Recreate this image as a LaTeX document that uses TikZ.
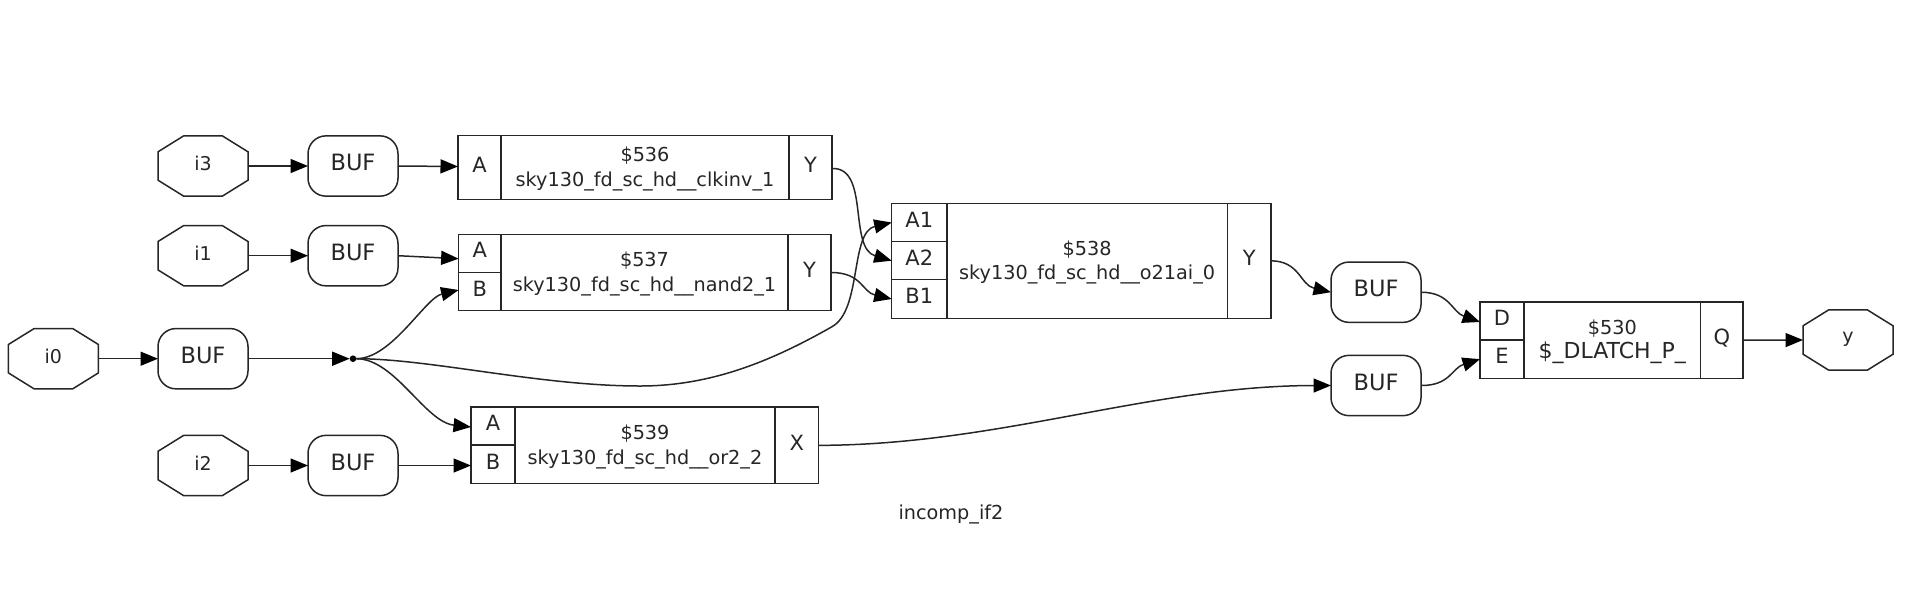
\documentclass[tikz,border=0pt]{standalone}
\usepackage{fontspec}
\setmainfont{DejaVu Sans}
\usetikzlibrary{arrows.meta}
\newcommand\rcell[6]{%
  \pgfmathsetmacro\cw{#4-#2}\pgfmathsetmacro\ch{#5-#3}%
  \pgfmathsetmacro\cx{(#2+#4)/2}\pgfmathsetmacro\cy{(#3+#5)/2}%
  \node[cellbox,minimum width=\cw pt,minimum height=\ch pt] (#1) at (\cx,\cy) {#6};}
\newcommand\octa[4]{%
  \draw[wire,shift={(#2,#3)}] (-19.3,-30.15) -- (19.3,-30.15) -- (45,-14.2) -- (45,14.2) -- (19.3,30.15) -- (-19.3,30.15) -- (-45,14.2) -- (-45,-14.2) -- cycle;
  \node[octlabel] (#1) at (#2,#3) {#4};}
\tikzset{
  wire/.style={line width=1.5pt,draw=black!85},
  conn/.style={wire,-{Triangle[length=17.5pt,width=14pt,color=black,fill=black]}},
  cellbox/.style={wire,rectangle,inner sep=0pt,outer sep=0pt,font=\fontsize{21}{24}\selectfont,text depth=6pt,text=black!85},
  maincell/.style={wire,rectangle,inner sep=0pt,outer sep=0pt,align=center,text=black!85,font=\fontsize{19.25}{24.5}\selectfont},
  octlabel/.style={rectangle,minimum width=90pt,minimum height=60.3pt,inner sep=0pt,outer sep=0pt,font=\fontsize{19}{22}\selectfont,text depth=5pt,text=black!85},
  bufbox/.style={wire,rectangle,rounded corners=18pt,minimum width=90pt,minimum height=60.3pt,inner sep=0pt,outer sep=0pt,font=\fontsize{22.5}{24}\selectfont,text depth=7pt,text=black!85},
  junction/.style={circle,fill=black,inner sep=0pt,minimum size=6.6pt,outer sep=0pt}
}
\newcommand\mcell[6]{%
  \pgfmathsetmacro\cw{#4-#2}\pgfmathsetmacro\ch{#5-#3}%
  \pgfmathsetmacro\cx{(#2+#4)/2}\pgfmathsetmacro\cy{(#3+#5)/2}%
  \node[maincell,minimum width=\cw pt,minimum height=\ch pt] (#1) at (\cx,\cy) {\rule{0pt}{17.5pt}#6};}
\begin{document}
\begin{tikzpicture}[x=1pt,y=-1pt]
\useasboundingbox (0,0) rectangle (1905,606);
\octa{i3}{203}{166}{i3}
\octa{i1}{203}{255.7}{i1}
\octa{i0}{53.4}{358.7}{i0}
\octa{i2}{203}{465.5}{i2}
\octa{yout}{1848}{340}{y}
\node[bufbox] (b3) at (353,166) {BUF};
\node[bufbox] (b1) at (353,255.7) {BUF};
\node[bufbox] (b0) at (203,358.7) {BUF};
\node[bufbox] (b2) at (353,465.5) {BUF};
\node[bufbox] (bu) at (1376,292.2) {BUF};
\node[bufbox] (bl) at (1376,385.5) {BUF};
\node[junction] (dot) at (353,358.7) {};
% $536
\rcell{r36A}{458}{135.7}{501}{199.3}{A}
\mcell{r36M}{501}{135.7}{789}{199.3}{\$536\\sky130\_fd\_sc\_hd\_\_clkinv\_1}
\rcell{r36Y}{789}{135.7}{832}{199.3}{Y}
% $537
\rcell{r37A}{458.6}{234.3}{501}{272.3}{A}
\rcell{r37B}{458.6}{272.3}{501}{310.7}{B}
\mcell{r37M}{501}{234.3}{788}{310.7}{\$537\\sky130\_fd\_sc\_hd\_\_nand2\_1}
\rcell{r37Y}{788}{234.3}{831}{310.7}{Y}
% $539
\rcell{r39A}{471}{407}{515}{445}{A}
\rcell{r39B}{471}{445}{515}{483.7}{B}
\mcell{r39M}{515}{407}{775}{483.7}{\$539\\sky130\_fd\_sc\_hd\_\_or2\_2}
\rcell{r39X}{775}{407}{818.7}{483.7}{X}
% $538
\rcell{r38a}{891.7}{203.3}{946.8}{241.7}{A1}
\rcell{r38b}{891.7}{241.7}{946.8}{279.7}{A2}
\rcell{r38c}{891.7}{279.7}{946.8}{318.3}{B1}
\mcell{r38M}{946.8}{203.3}{1227.5}{318.3}{\$538\\sky130\_fd\_sc\_hd\_\_o21ai\_0}
\rcell{r38Y}{1227.5}{203.3}{1270.8}{318.3}{Y}
% $530
\rcell{r30D}{1480}{302}{1524}{340}{D}
\rcell{r30E}{1480}{340}{1524}{378.3}{E}
\mcell{r30M}{1524}{302}{1700.5}{378.3}{\$530\\{\fontsize{22}{24.5}\selectfont \$\_DLATCH\_P\_}}
\rcell{r30Q}{1700.5}{302}{1743}{378.3}{Q}
\node[font=\fontsize{19.25}{22}\selectfont,text=black!85] (cap) at (951,514.5) {incomp\_if2};
% connectors
\draw[conn] (i3.east) -- (b3.west);
\draw[conn] (i1.east) -- (b1.west);
\draw[conn] (i0.east) -- (b0.west);
\draw[conn] (i2.east) -- (b2.west);
\draw[conn] (b3.east) -- ([yshift=1pt]r36A.west);
\draw[conn] (b1.east) -- ([yshift=-3pt]b1.east -| r37A.west);
\draw[conn] (b0.east) -- (dot.west);
\draw[conn] (b2.east) -- (b2.east -| r39B.west);
\draw[conn] (dot.east) .. controls (392,358.7) and (425,298) .. ([yshift=1.5pt]r37B.west);
\draw[conn] (dot.east) .. controls (395,358.7) and (425,422) .. ([yshift=-1pt]r39A.west);
\draw[conn] (dot.east) .. controls (430,358.7) and (540,386) .. (640,386) .. controls (710,386) and (770,362) .. (832,326.7) .. controls (862,310) and (850,232) .. (r38a.west);
\draw[conn] ([yshift=-1pt]r36Y.east) .. controls (870,167) and (848,248) .. (r38b.west);
\draw[conn] (r37Y.east) .. controls (862,272.5) and (862,292) .. (r38c.west);
\draw[conn] (r39X.east) .. controls (1000,445) and (1150,385.7) .. (bl.west);
\draw[conn] (r38Y.east) .. controls (1300,261) and (1300,285) .. (bu.west);
\draw[conn] (bu.east) .. controls (1450,292.3) and (1452,312) .. ([yshift=-1pt]r30D.west);
\draw[conn] (bl.east) .. controls (1450,385.7) and (1452,368) .. (r30E.west);
\draw[conn] (r30Q.east) -- (yout.west);
\end{tikzpicture}
\end{document}
